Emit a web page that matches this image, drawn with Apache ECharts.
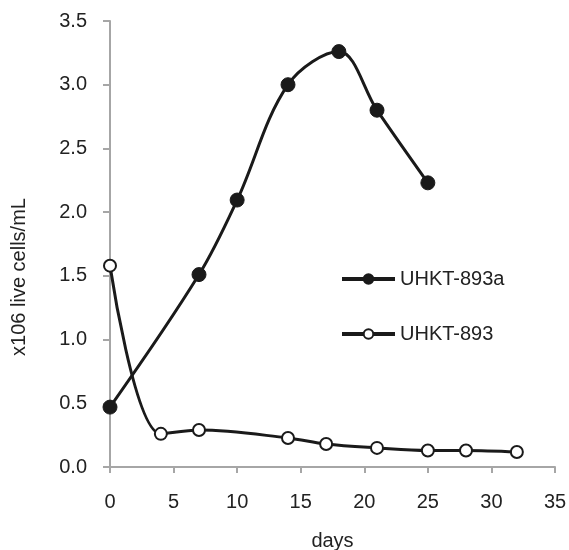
<!DOCTYPE html>
<html><head><meta charset="utf-8">
<script src="https://cdn.jsdelivr.net/npm/echarts@6/dist/echarts.min.js"></script>
<style>html,body{margin:0;padding:0;background:#fff}#c{width:569px;height:550px}</style>
</head><body><div id="c"></div>
<script>
const daysA = [0, 7, 10, 14, 18, 21, 25];
const cellsA = [0.47, 1.51, 2.095, 3.0, 3.26, 2.80, 2.23];
const daysB = [0, 4, 7, 14, 17, 21, 25, 28, 32];
const cellsB = [1.58, 0.26, 0.29, 0.228, 0.18, 0.15, 0.13, 0.13, 0.118];
const seriesNames = ['UHKT-893a', 'UHKT-893'];
const xTitle = 'days';
const yTitle = 'x106 live cells/mL';

const font = 'Liberation Sans, Arial, sans-serif';
const txt = '#222';
const chart = echarts.init(document.getElementById('c'));
chart.setOption({
  animation: false,
  backgroundColor: '#fff',
  grid: {left: 110, right: 14, top: 21, bottom: 83, containLabel: false, outerBoundsMode: 'none'},
  xAxis: {
    type: 'value', min: 0, max: 35, interval: 5,
    name: xTitle, nameLocation: 'middle', nameGap: 64,
    nameTextStyle: {fontFamily: font, fontSize: 20, color: txt},
    axisLine: {lineStyle: {color: '#a6a6a6', width: 2}},
    axisTick: {show: true, length: 6, lineStyle: {color: '#a6a6a6', width: 2}},
    axisLabel: {fontFamily: font, fontSize: 20, color: txt, margin: 25},
    splitLine: {show: false}
  },
  yAxis: {
    type: 'value', min: 0, max: 3.5, interval: 0.5,
    axisLine: {show: true, lineStyle: {color: '#a6a6a6', width: 2}},
    axisTick: {show: true, length: 7, lineStyle: {color: '#a6a6a6', width: 2}},
    axisLabel: {fontFamily: font, fontSize: 20, color: txt, margin: 23,
      formatter: v => v.toFixed(1)},
    splitLine: {show: false}
  },
  graphic: [{
    type: 'text', x: 19, y: 277, rotation: Math.PI / 2,
    style: {text: yTitle, font: '20px ' + font, fill: txt,
      textAlign: 'center', textVerticalAlign: 'middle'}
  }],
  legend: {
    orient: 'vertical', left: 335, top: 264, itemGap: 35,
    itemWidth: 53, itemHeight: 12,
    lineStyle: {width: 4, color: '#1a1a1a'},
    textStyle: {fontFamily: font, fontSize: 20, color: txt},
    data: seriesNames
  },
  series: [
    {
      name: seriesNames[0], type: 'line', smooth: 0.35,
      data: daysA.map((d, i) => [d, cellsA[i]]),
      symbol: 'circle', symbolSize: 14,
      lineStyle: {color: '#1a1a1a', width: 3},
      itemStyle: {color: '#1a1a1a', borderColor: '#1a1a1a', borderWidth: 1}
    },
    {
      name: seriesNames[1], type: 'line', smooth: 0.35,
      data: daysB.map((d, i) => [d, cellsB[i]]),
      symbol: 'circle', symbolSize: 12,
      lineStyle: {color: '#1a1a1a', width: 3},
      itemStyle: {color: '#fff', borderColor: '#1a1a1a', borderWidth: 2}
    }
  ]
});
</script></body></html>
